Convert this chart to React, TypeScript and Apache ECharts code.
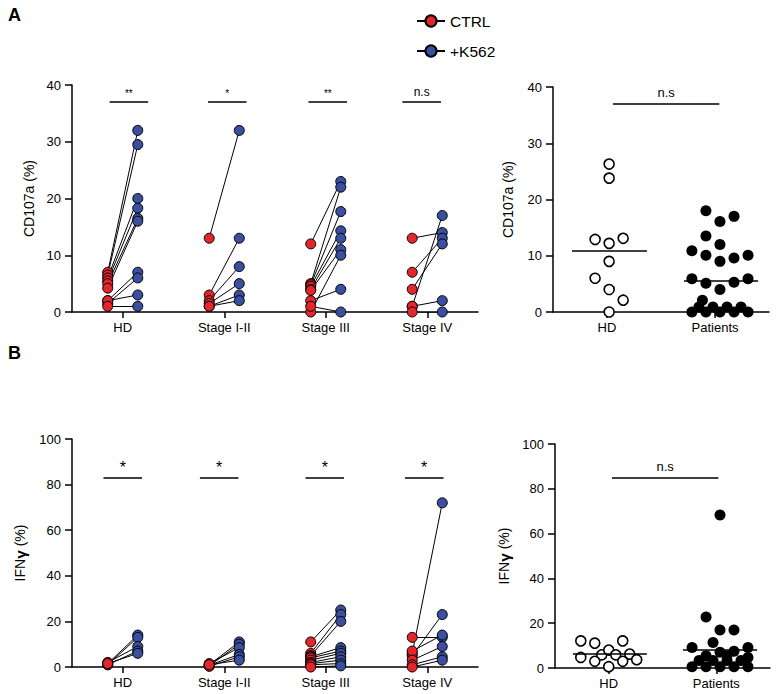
import React, { useEffect, useRef } from "react";
import * as echarts from "echarts";

// ---------- data ----------
const stages = ["HD", "Stage I-II", "Stage III", "Stage IV"];
const groups = ["HD", "Patients"];

// CD107a (%) paired CTRL -> +K562, per stage
const cdCtrl = [
  [7, 6.5, 6, 5.5, 5, 4.2, 2, 1.5, 2, 1],
  [13, 3, 2, 1.5, 1, 1],
  [12, 5, 4.8, 4.5, 4, 3.8, 0, 2, 1],
  [13, 7, 4, 1, 1, 0],
];
const cdK562 = [
  [32, 29.5, 20, 18.3, 16.5, 16, 7, 6, 3, 1],
  [32, 13, 8, 5, 3, 2],
  [23, 22, 17.7, 14.3, 13, 11, 10, 4, 0],
  [14, 13, 12, 17, 2, 0],
];
const cdSig = ["**", "*", "**", "n.s"];
const cdSigLevel = 37;

// IFNγ (%) paired CTRL -> +K562, per stage
const ifnCtrl = [
  [1.5, 1, 2, 1, 1.5],
  [1, 0.5, 1.5, 0.8, 0.3, 1],
  [11, 6, 5, 4.5, 4, 3, 2, 1.5, 1, 0],
  [13, 5, 6, 7, 3, 1, 0],
];
const ifnK562 = [
  [14, 13, 9, 7, 6],
  [11, 10, 8.5, 5.5, 4.5, 3],
  [25, 23, 20, 8.5, 7, 6, 4.5, 3, 1.5, 0.5],
  [13, 23, 72, 14, 9, 4.5, 3],
];
const ifnSig = ["*", "*", "*", "*"];
const ifnSigLevel = 83;

// CD107a (%) HD vs Patients
const cdHD = [26.3, 23.8, 12.9, 12.2, 13.1, 9, 6, 4, 2.1, 0];
const cdHDCol = [0, 0, -2, 0, 2, 0, -2, 0, 2, 0];
const cdPat = [18, 16.1, 17, 13.5, 12, 10.9, 10.1, 9, 9.6, 10.1, 5.9, 5.1, 4, 5.3, 5.9, 2.1, 0, 0, 0, 0, 0, 0.9, 0.9, 0.9, 0.9];
const cdPatCol = [-2, 0, 2, -2, 0, -4, -2, 0, 2, 4, -4, -2, 0, 2, 4, -2.5, -4, -2, 0, 2, 4, -3, -1, 1, 3];
const cdMedian = [10.9, 5.6];
const cdGroupSig = "n.s";
const cdGroupSigLevel = 37;

// IFNγ (%) HD vs Patients
const ifnHD = [12.1, 11.1, 12.1, 4.7, 5.9, 8, 5.9, 6.2, 3.7, 3, 3, 0.6];
const ifnHDCol = [-4, -2, 2, -4, -1, 0, 1, 3, 4, -2, 2, 0];
const ifnPat = [68.3, 22.8, 17, 17, 9.2, 11.4, 9.2, 0.6, 0.6, 0.6, 0.6, 0.6, 3.3, 3.3, 3.3, 3.3, 5.5, 7, 5.5, 7.5, 4.7];
const ifnPatCol = [0, -2, 0, 2, -4, -1, 4, -4, -2, 0, 2, 4, -3, -1, 1, 3, -2, 0, 1, 2, 4];
const ifnMedian = [6.2, 8.2];
const ifnGroupSig = "n.s";
const ifnGroupSigLevel = 85;

// ---------- layout / style ----------
const FONT = "'Liberation Sans', Arial, Helvetica, sans-serif";
const RED = "#e2262b";
const BLUE = "#3a4f9f";
const PAIR_OFFSET = 0.148;
const COL_STEP = 0.065;
const SIG_HALF = 0.19;
const topSigCenter = [0.06, 0.03, 0.02, -0.055];
const botSigCenter = [0, -0.05, -0.01, -0.03];

const grids = [
  { left: 72, top: 85, width: 406, height: 227 },
  { left: 553, top: 87, width: 216, height: 225 },
  { left: 72, top: 439, width: 406, height: 228 },
  { left: 555, top: 444, width: 215, height: 224 },
];

function catAxis(g: number, data: string[]) {
  return {
    type: "category",
    gridIndex: g,
    data,
    boundaryGap: true,
    axisLine: { show: true, onZero: false, lineStyle: { color: "#000", width: 1.5 } },
    axisTick: { show: true, alignWithLabel: true, length: 6, lineStyle: { color: "#000", width: 1.5 } },
    axisLabel: { color: "#000", fontSize: 13, fontFamily: FONT, margin: 9, interval: 0 },
    splitLine: { show: false },
  };
}
function hiddenX(g: number, max: number) {
  return {
    type: "value",
    gridIndex: g,
    min: -0.5,
    max,
    show: false,
    axisLine: { show: false, onZero: false },
    splitLine: { show: false },
  };
}
function yAx(g: number, max: number, interval: number, name: string, gap: number) {
  return {
    type: "value",
    gridIndex: g,
    min: 0,
    max,
    interval,
    name,
    nameLocation: "middle",
    nameGap: gap,
    nameTextStyle: {
      color: "#000",
      fontSize: 14,
      fontFamily: FONT,
      rich: { g: { fontSize: 15.5, fontWeight: "bold", fontFamily: FONT, color: "#000" } },
    },
    axisLine: { show: true, onZero: false, lineStyle: { color: "#000", width: 1.5 } },
    axisTick: { show: true, length: 7, lineStyle: { color: "#000", width: 1.5 } },
    axisLabel: { color: "#000", fontSize: 13, fontFamily: FONT, margin: 11 },
    splitLine: { show: false },
  };
}

function sigLines(xi: number, g: number, items: any[], fontSize: number, distance: number) {
  return {
    type: "lines",
    coordinateSystem: "cartesian2d",
    xAxisIndex: xi,
    yAxisIndex: g,
    data: items,
    lineStyle: { color: "#000", width: 1.5, opacity: 1 },
    label: {
      show: true,
      position: "middle",
      distance,
      formatter: "{b}",
      color: "#000",
      fontSize,
      fontFamily: FONT,
    },
    silent: true,
    z: 2,
  };
}

function pairedSeries(
  g: number,
  ctrl: number[][],
  k562: number[][],
  sig: string[],
  sigLevel: number,
  sigCenter: number[],
  sigFont: (s: string) => number,
  sigDist: number
) {
  const xi = g * 2 + 1;
  const lineData: any[] = [];
  const ctrlPts: number[][] = [];
  const kPts: number[][] = [];
  ctrl.forEach((arr, i) =>
    arr.forEach((c, j) => {
      const k = k562[i][j];
      lineData.push({ coords: [[i - PAIR_OFFSET, c], [i + PAIR_OFFSET, k]] });
      ctrlPts.push([i - PAIR_OFFSET, c]);
      kPts.push([i + PAIR_OFFSET, k]);
    })
  );
  const bars = sig.map((s, i) => ({
    name: s,
    coords: [
      [i + sigCenter[i] - SIG_HALF, sigLevel],
      [i + sigCenter[i] + SIG_HALF, sigLevel],
    ],
    label: { fontSize: sigFont(s) },
  }));
  return [
    {
      type: "lines",
      coordinateSystem: "cartesian2d",
      xAxisIndex: xi,
      yAxisIndex: g,
      data: lineData,
      lineStyle: { color: "#000", width: 1, opacity: 1 },
      silent: true,
      z: 2,
    },
    {
      type: "scatter",
      name: "ctrl" + g,
      xAxisIndex: xi,
      yAxisIndex: g,
      data: ctrlPts,
      symbol: "circle",
      symbolSize: 10,
      itemStyle: { color: RED, borderColor: "#000", borderWidth: 1, opacity: 1 },
      z: 3,
    },
    {
      type: "scatter",
      name: "k562" + g,
      xAxisIndex: xi,
      yAxisIndex: g,
      data: kPts,
      symbol: "circle",
      symbolSize: 10,
      itemStyle: { color: BLUE, borderColor: "#000", borderWidth: 1, opacity: 1 },
      z: 3,
    },
    sigLines(xi, g, bars, 12, sigDist),
  ];
}

function groupSeries(
  g: number,
  hd: number[],
  hdCol: number[],
  pat: number[],
  patCol: number[],
  median: number[],
  centers: number[],
  medianSpan: number[][],
  sig: string,
  sigLevel: number,
  sigSpan: number[]
) {
  const xi = g * 2 + 1;
  const hdPts = hd.map((v, i) => [centers[0] + hdCol[i] * COL_STEP, v]);
  const patPts = pat.map((v, i) => [centers[1] + patCol[i] * COL_STEP, v]);
  const medLines = median.map((m, i) => ({
    coords: [
      [medianSpan[i][0], m],
      [medianSpan[i][1], m],
    ],
  }));
  return [
    {
      type: "lines",
      coordinateSystem: "cartesian2d",
      xAxisIndex: xi,
      yAxisIndex: g,
      data: medLines,
      lineStyle: { color: "#000", width: 1.5, opacity: 1 },
      silent: true,
      z: 4,
    },
    {
      type: "scatter",
      xAxisIndex: xi,
      yAxisIndex: g,
      data: hdPts,
      symbol: "circle",
      symbolSize: 10,
      itemStyle: { color: "#fff", borderColor: "#000", borderWidth: 1.6, opacity: 1 },
      z: 3,
    },
    {
      type: "scatter",
      xAxisIndex: xi,
      yAxisIndex: g,
      data: patPts,
      symbol: "circle",
      symbolSize: 11,
      itemStyle: { color: "#000", borderColor: "#000", borderWidth: 0, opacity: 1 },
      z: 3,
    },
    sigLines(xi, g, [{ name: sig, coords: [[sigSpan[0], sigLevel], [sigSpan[1], sigLevel]] }], 13, 5),
  ];
}

export default function App() {
  const ref = useRef<HTMLDivElement>(null);
  useEffect(() => {
    if (!ref.current) return;
    const chart = echarts.init(ref.current, undefined, { renderer: "svg" });
    const option: any = {
      animation: false,
      backgroundColor: "#fff",
      textStyle: { fontFamily: FONT },
      grid: grids.map((gr) => ({ ...gr, containLabel: false, outerBoundsMode: "none" })),
      xAxis: [
        catAxis(0, stages),
        hiddenX(0, 3.5),
        catAxis(1, groups),
        hiddenX(1, 1.5),
        catAxis(2, stages),
        hiddenX(2, 3.5),
        catAxis(3, groups),
        hiddenX(3, 1.5),
      ],
      yAxis: [
        yAx(0, 40, 10, "CD107a (%)", 36),
        yAx(1, 40, 10, "CD107a (%)", 38),
        yAx(2, 100, 20, "IFN{g|γ} (%)", 36),
        yAx(3, 100, 20, "IFN{g|γ} (%)", 43),
      ],
      legend: {
        data: ["CTRL", "+K562"],
        orient: "vertical",
        left: 411,
        top: 8,
        itemWidth: 28,
        itemHeight: 14,
        itemGap: 14,
        textStyle: { color: "#000", fontSize: 15.5, fontFamily: FONT },
        selectedMode: false,
      },
      graphic: [
        { type: "text", left: 8, top: 6, style: { text: "A", fontSize: 18, fontWeight: "bold", fontFamily: FONT, fill: "#000" } },
        { type: "text", left: 8, top: 344, style: { text: "B", fontSize: 18, fontWeight: "bold", fontFamily: FONT, fill: "#000" } },
      ],
      series: [
        {
          type: "line",
          name: "CTRL",
          xAxisIndex: 1,
          yAxisIndex: 0,
          data: [],
          symbol: "circle",
          itemStyle: { color: RED, borderColor: "#000", borderWidth: 1 },
          lineStyle: { color: "#000", width: 1.5 },
        },
        {
          type: "line",
          name: "+K562",
          xAxisIndex: 1,
          yAxisIndex: 0,
          data: [],
          symbol: "circle",
          itemStyle: { color: BLUE, borderColor: "#000", borderWidth: 1 },
          lineStyle: { color: "#000", width: 1.5 },
        },
        ...pairedSeries(0, cdCtrl, cdK562, cdSig, cdSigLevel, topSigCenter, (s) => (s === "n.s" ? 12 : 10), 4),
        ...pairedSeries(2, ifnCtrl, ifnK562, ifnSig, ifnSigLevel, botSigCenter, () => 16, 2),
        ...groupSeries(1, cdHD, cdHDCol, cdPat, cdPatCol, cdMedian, [0.02, 1.046], [[-0.324, 0.37], [0.713, 1.398]], cdGroupSig, cdGroupSigLevel, [0.055, 1.04]),
        ...groupSeries(3, ifnHD, ifnHDCol, ifnPat, ifnPatCol, ifnMedian, [0.0, 1.035], [[-0.333, 0.355], [0.69, 1.38]], ifnGroupSig, ifnGroupSigLevel, [0.03, 1.02]),
      ],
    };
    chart.setOption(option);
    return () => chart.dispose();
  }, []);
  return <div ref={ref} style={{ width: 780, height: 694, position: "absolute", left: 0, top: 0 }} />;
}
